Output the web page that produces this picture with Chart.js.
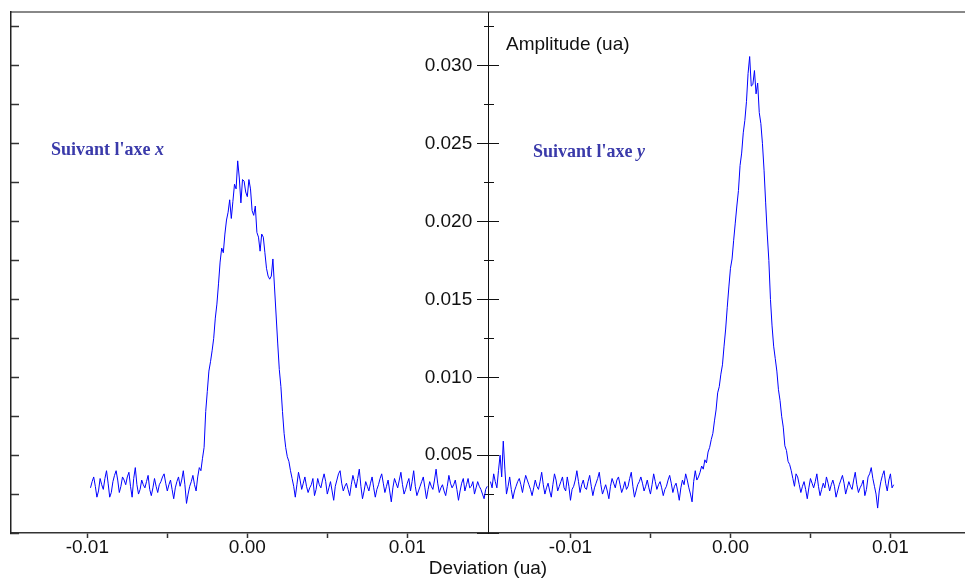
<!DOCTYPE html>
<html>
<head>
<meta charset="utf-8">
<script src="https://cdn.jsdelivr.net/npm/chart.js@4.4.0/dist/chart.umd.min.js"></script>
<style>
  html, body { margin: 0; padding: 0; background: #fff; }
</style>
</head>
<body>
<canvas id="profileChart" width="965" height="579"></canvas>
<script>
// sampling of the two profiles (deviation, ua)
const startX = -0.0098;   // profile along x
const startY = -0.0150;   // profile along y
const step = 0.0001;

// amplitude (ua), profile "Suivant l'axe x"
const ampX = [
  0.0029, 0.0033, 0.0036, 0.0030, 0.0023, 0.0027, 0.0035, 0.0031, 0.0028, 0.0035,
  0.0040, 0.0032, 0.0023, 0.0026, 0.0033, 0.0037, 0.0040, 0.0034, 0.0026, 0.0030,
  0.0036, 0.0034, 0.0031, 0.0036, 0.0039, 0.0030, 0.0023, 0.0035, 0.0042, 0.0031,
  0.0025, 0.0028, 0.0034, 0.0031, 0.0029, 0.0033, 0.0037, 0.0028, 0.0024, 0.0029,
  0.0035, 0.0030, 0.0026, 0.0031, 0.0033, 0.0036, 0.0038, 0.0032, 0.0027, 0.0031,
  0.0034, 0.0028, 0.0022, 0.0029, 0.0033, 0.0036, 0.0030, 0.0034, 0.0040, 0.0031,
  0.0019, 0.0025, 0.0030, 0.0033, 0.0037, 0.0031, 0.0027, 0.0036, 0.0042, 0.0040,
  0.0048, 0.0055, 0.0078, 0.0091, 0.0104, 0.0110, 0.0117, 0.0125, 0.0138, 0.0147,
  0.0160, 0.0174, 0.0183, 0.0180, 0.0192, 0.0201, 0.0206, 0.0214, 0.0202, 0.0213,
  0.0224, 0.0221, 0.0239, 0.0228, 0.0212, 0.0227, 0.0226, 0.0219, 0.0216, 0.0227,
  0.0221, 0.0207, 0.0204, 0.0210, 0.0193, 0.0190, 0.0181, 0.0192, 0.0190, 0.0180,
  0.0170, 0.0165, 0.0163, 0.0165, 0.0176, 0.0158, 0.0140, 0.0122, 0.0105, 0.0094,
  0.0078, 0.0064, 0.0055, 0.0049, 0.0046, 0.0040, 0.0035, 0.0030, 0.0023, 0.0031,
  0.0039, 0.0034, 0.0028, 0.0032, 0.0036, 0.0030, 0.0026, 0.0029, 0.0031, 0.0035,
  0.0024, 0.0028, 0.0035, 0.0031, 0.0029, 0.0034, 0.0038, 0.0033, 0.0025, 0.0029,
  0.0033, 0.0027, 0.0021, 0.0030, 0.0034, 0.0038, 0.0040, 0.0032, 0.0027, 0.0030,
  0.0032, 0.0028, 0.0024, 0.0031, 0.0037, 0.0033, 0.0029, 0.0035, 0.0041, 0.0030,
  0.0022, 0.0027, 0.0033, 0.0030, 0.0027, 0.0032, 0.0036, 0.0029, 0.0023, 0.0028,
  0.0031, 0.0035, 0.0038, 0.0032, 0.0026, 0.0030, 0.0034, 0.0027, 0.0020, 0.0029,
  0.0035, 0.0032, 0.0029, 0.0034, 0.0039, 0.0031, 0.0025, 0.0028, 0.0032, 0.0035,
  0.0027, 0.0033, 0.0040, 0.0030, 0.0024, 0.0027, 0.0030, 0.0033, 0.0036, 0.0029,
  0.0022, 0.0028, 0.0033, 0.0030, 0.0028, 0.0034, 0.0041, 0.0032, 0.0026, 0.0029,
  0.0031, 0.0027, 0.0024, 0.0030, 0.0037, 0.0032, 0.0029, 0.0031, 0.0034, 0.0028,
  0.0021, 0.0027, 0.0032, 0.0035, 0.0027, 0.0031, 0.0035, 0.0029, 0.0030, 0.0033,
  0.0025, 0.0029, 0.0033, 0.0030, 0.0028, 0.0025, 0.0022, 0.0028,
  0.0030
];

// amplitude (ua), profile "Suivant l'axe y"
const ampY = [
  0.0033, 0.0029, 0.0038, 0.0033, 0.0029, 0.0040, 0.0050, 0.0036, 0.0059, 0.0041,
  0.0025, 0.0030, 0.0036, 0.0028, 0.0022, 0.0027, 0.0030, 0.0033, 0.0035, 0.0031,
  0.0026, 0.0032, 0.0037, 0.0034, 0.0031, 0.0028, 0.0024, 0.0029, 0.0034, 0.0030,
  0.0028, 0.0033, 0.0039, 0.0031, 0.0025, 0.0029, 0.0032, 0.0027, 0.0023, 0.0031,
  0.0038, 0.0034, 0.0027, 0.0030, 0.0033, 0.0036, 0.0029, 0.0027, 0.0036, 0.0030,
  0.0021, 0.0028, 0.0030, 0.0034, 0.0040, 0.0033, 0.0026, 0.0031, 0.0034, 0.0029,
  0.0028, 0.0033, 0.0037, 0.0030, 0.0024, 0.0029, 0.0032, 0.0035, 0.0039, 0.0031,
  0.0025, 0.0028, 0.0031, 0.0027, 0.0022, 0.0030, 0.0035, 0.0032, 0.0029, 0.0034,
  0.0036, 0.0031, 0.0026, 0.0029, 0.0033, 0.0028, 0.0030, 0.0035, 0.0039, 0.0030,
  0.0023, 0.0027, 0.0031, 0.0033, 0.0036, 0.0032, 0.0027, 0.0030, 0.0034, 0.0029,
  0.0025, 0.0031, 0.0038, 0.0033, 0.0028, 0.0031, 0.0033, 0.0029, 0.0024, 0.0028,
  0.0030, 0.0034, 0.0037, 0.0032, 0.0026, 0.0030, 0.0032, 0.0027, 0.0021, 0.0029,
  0.0034, 0.0031, 0.0038, 0.0034, 0.0029, 0.0025, 0.0020, 0.0033, 0.0040, 0.0034,
  0.0036, 0.0039, 0.0043, 0.0041, 0.0047, 0.0045, 0.0052, 0.0055, 0.0060, 0.0064,
  0.0072, 0.0079, 0.0090, 0.0094, 0.0102, 0.0108, 0.0120, 0.0131, 0.0145, 0.0158,
  0.0170, 0.0176, 0.0188, 0.0199, 0.0210, 0.0220, 0.0236, 0.0244, 0.0257, 0.0265,
  0.0277, 0.0295, 0.0306, 0.0287, 0.0288, 0.0297, 0.0282, 0.0289, 0.0270, 0.0263,
  0.0250, 0.0233, 0.0212, 0.0192, 0.0175, 0.0150, 0.0133, 0.0120, 0.0112, 0.0104,
  0.0092, 0.0085, 0.0075, 0.0068, 0.0056, 0.0053, 0.0046, 0.0044, 0.0040, 0.0035,
  0.0030, 0.0038, 0.0036, 0.0031, 0.0026, 0.0030, 0.0033, 0.0028, 0.0022, 0.0029,
  0.0035, 0.0032, 0.0029, 0.0033, 0.0038, 0.0030, 0.0024, 0.0028, 0.0032, 0.0029,
  0.0036, 0.0032, 0.0027, 0.0031, 0.0034, 0.0030, 0.0023, 0.0027, 0.0031, 0.0034,
  0.0037, 0.0032, 0.0025, 0.0029, 0.0033, 0.0030, 0.0028, 0.0034, 0.0039, 0.0031,
  0.0026, 0.0029, 0.0031, 0.0034, 0.0024, 0.0028, 0.0036, 0.0038, 0.0042, 0.0035,
  0.0030, 0.0025, 0.0016, 0.0027, 0.0033, 0.0037, 0.0040, 0.0032, 0.0027, 0.0034,
  0.0038, 0.0029,
  0.0031
];

const devTicks = [-0.01, -0.005, 0, 0.005, 0.01];
const devTickLabels = ["-0.01", "", "0.00", "", "0.01"];

// both panels share one horizontal scale, the y panel is shifted right
const panelShift = 0.0302;
const dividerAt = 0.0151;
const labelGap = 0.00104;   // gap between amplitude labels and the divider
const xMin = -0.01477;
const xMax = 0.04486;
const yMax = 0.03346;

const FONT = '"Liberation Sans", Arial, sans-serif';
const SERIF = '"Liberation Serif", "Times New Roman", serif';

const xTickValues = devTicks.concat(devTicks.map(v => v + panelShift));
const xTickLabels = devTickLabels.concat(devTickLabels);

const profileX = ampX.map((v, i) => ({ x: startX + i * step, y: v }));
const profileY = ampY.map((v, i) => ({ x: startY + i * step + panelShift, y: v }));

// text notes, anchored in data space
const notes = [
  { text: "Amplitude (ua)", x: 0.01617, y: 0.03138, font: "19px " + FONT, color: "#111" },
  { text: "Suivant l'axe ", italic: "x", x: -0.01227, y: 0.02458, font: "bold 18px " + SERIF, color: "#3a3aaa" },
  { text: "Suivant l'axe ", italic: "y", x: 0.01786, y: 0.02442, font: "bold 18px " + SERIF, color: "#3a3aaa" }
];

const notesPlugin = {
  id: "notes",
  afterDraw(chart) {
    const { ctx } = chart;
    const xs = chart.scales.x, ys = chart.scales.y;
    ctx.save();
    ctx.textBaseline = "middle";
    ctx.textAlign = "left";
    notes.forEach(n => {
      const px = xs.getPixelForValue(n.x);
      const py = ys.getPixelForValue(n.y);
      ctx.fillStyle = n.color;
      ctx.font = n.font;
      ctx.fillText(n.text, px, py);
      if (n.italic) {
        const w = ctx.measureText(n.text).width;
        ctx.font = "italic " + n.font;
        ctx.fillText(n.italic, px + w, py);
      }
    });
    ctx.restore();
  }
};

// vertical axis helper (all share the same range)
function ampAxis(pos, stepSize, tickLength, extra) {
  return Object.assign({
    axis: "y",
    type: "linear",
    position: { x: pos },
    min: 0,
    max: yMax,
    ticks: { display: false, stepSize: stepSize, includeBounds: false },
    grid: { drawOnChartArea: false, tickLength: tickLength, tickColor: "#111", tickWidth: 1 },
    border: { display: false }
  }, extra || {});
}

const ctx = document.getElementById("profileChart").getContext("2d");
const chart = new Chart(ctx, {
  type: "line",
  data: {
    datasets: [
      { label: "x", data: profileX, borderColor: "#0000ff", borderWidth: 1, pointRadius: 0, tension: 0, xAxisID: "x", yAxisID: "y" },
      { label: "y", data: profileY, borderColor: "#0000ff", borderWidth: 1, pointRadius: 0, tension: 0, xAxisID: "x", yAxisID: "y" }
    ]
  },
  options: {
    responsive: false,
    animation: false,
    devicePixelRatio: 1,
    layout: { padding: { left: 11, right: 0, top: 12, bottom: 1 } },
    plugins: { legend: { display: false }, tooltip: { enabled: false } },
    scales: {
      x: {
        type: "linear",
        position: "bottom",
        min: xMin,
        max: xMax,
        afterBuildTicks: s => { s.ticks = xTickValues.map(v => ({ value: v })); },
        ticks: {
          autoSkip: false, maxRotation: 0, padding: 0, color: "#111",
          font: { family: FONT, size: 19, lineHeight: 1 },
          callback: (v, i) => xTickLabels[i]
        },
        grid: { drawOnChartArea: false, tickLength: 5, tickColor: "#333", tickWidth: 1.5 },
        border: { color: "#333", width: 1.5 },
        title: {
          display: true, text: "Deviation (ua)", color: "#111",
          font: { family: FONT, size: 19, lineHeight: 1 },
          padding: { top: 2, bottom: 0 }
        }
      },
      xTop: {
        type: "linear", position: "top", min: 0, max: 1,
        ticks: { display: false },
        grid: { display: false, drawTicks: false, tickLength: 0 },
        border: { color: "#888", width: 2 }
      },
      // left frame with inward ticks
      y: ampAxis(xMin, 0.0025, -9, {
        grid: { drawOnChartArea: false, tickLength: -9, tickColor: "#333", tickWidth: 1.5 },
        border: { display: true, color: "#222", width: 1.5 }
      }),
      // central amplitude axis: line, crossing ticks, labels
      yMid: ampAxis(dividerAt, 0.005, 11, {
        border: { display: true, color: "#111", width: 1 }
      }),
      yMidR: ampAxis(dividerAt, 0.005, -10),
      yMidMinor: ampAxis(dividerAt, 0.0025, 5),
      yMidMinorR: ampAxis(dividerAt, 0.0025, -5),
      yMidLabels: ampAxis(dividerAt - labelGap, 0.005, 0, {
        grid: { display: false, drawTicks: false, tickLength: 0 },
        ticks: {
          stepSize: 0.005, includeBounds: false, padding: 0, color: "#111",
          font: { family: FONT, size: 19, lineHeight: 1 },
          callback: v => (v === 0 ? "" : v.toFixed(3))
        }
      })
    }
  },
  plugins: [notesPlugin]
});
</script>
</body>
</html>
